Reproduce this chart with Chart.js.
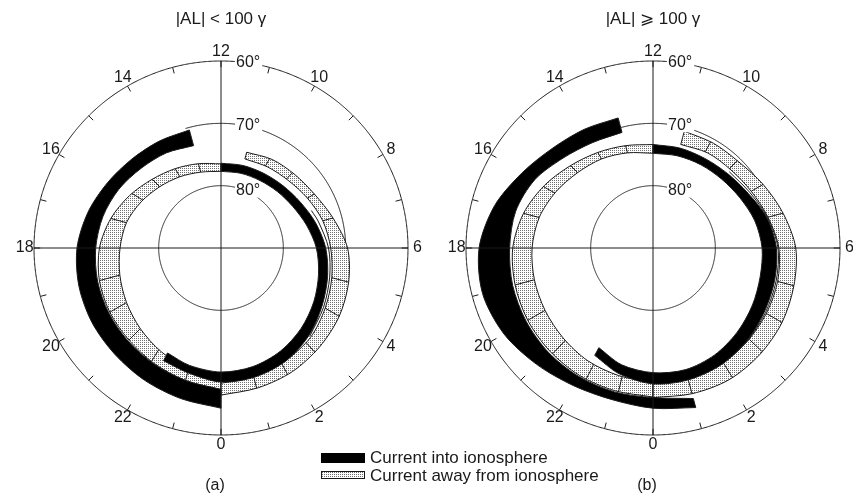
<!DOCTYPE html>
<html>
<head>
<meta charset="utf-8">
<script src="https://cdn.jsdelivr.net/npm/chart.js@4.4.0/dist/chart.umd.min.js"></script>
<style>
  html, body { margin: 0; padding: 0; background: #fff; }
  #currents { display: block; }
</style>
</head>
<body>
<canvas id="currents" width="853" height="497"></canvas>
<script>
// field-aligned current bands: magnetic local time (h) vs invariant latitude (deg)
// (a) |AL| < 100 gamma
var aIntoDuskMlt   = [13, 14, 15, 16, 17, 18, 19, 20, 21, 22, 23, 24];
var aIntoDuskOuter = [70.4, 70.2, 69.8, 69.0, 67.9, 66.9, 66.4, 66.1, 65.9, 65.5, 65.0, 64.3];
var aIntoDuskInner = [73.0, 72.4, 71.9, 71.1, 70.4, 69.9, 69.5, 69.2, 68.9, 68.5, 68.0, 67.3];

var aAwayDuskMlt   = [12, 13, 14, 15, 16, 17, 18, 19, 20, 21, 22, 23, 24];
var aAwayDuskOuter = [76.5, 76.0, 75.3, 74.4, 73.1, 71.7, 70.5, 69.8, 69.4, 69.1, 68.6, 68.0, 67.3];
var aAwayDuskInner = [77.7, 77.4, 76.8, 76.1, 75.2, 74.3, 73.8, 73.2, 72.5, 71.7, 70.8, 70.0, 69.5];
var aAwayDuskCuts  = [13, 14, 15, 15.9, 17, 19, 20, 21, 21.9, 23];

var aIntoDawnMlt   = [12, 11, 10, 9, 8, 7, 6, 5, 4, 3, 2, 1, 0, 23, 22.2];
var aIntoDawnOuter = [76.4, 76.3, 76.2, 75.9, 75.3, 74.3, 73.2, 72.3, 71.3, 70.1, 69.1, 68.6, 68.5, 69.3, 69.7];
var aIntoDawnInner = [77.7, 77.6, 77.5, 77.2, 76.7, 75.8, 74.7, 73.8, 72.8, 71.8, 70.9, 70.3, 70.1, 70.5, 71.1];

var aAwayDawnMlt   = [11, 10, 9, 8, 7, 6, 5, 4, 3, 2, 1, 0];
var aAwayDawnOuter = [74.1, 73.6, 73.3, 72.7, 71.4, 69.7, 68.8, 68.1, 67.6, 67.1, 66.8, 66.4];
var aAwayDawnInner = [75.2, 75.0, 74.7, 74.0, 73.1, 72.4, 71.6, 70.7, 69.7, 69.2, 68.7, 68.3];
var aAwayDawnCuts  = [10.1, 9.1, 8, 7, 5, 4, 2.8, 1.85, 0.95];

var aEdgeMlt = [7.5, 7, 6, 5, 4, 3];
var aEdgeLat = [74.3, 73.8, 72.75, 71.95, 71.0, 69.9];
var aArc70 = [13.1, 6.0];

// (b) |AL| >= 100 gamma
var bIntoDuskMlt   = [13, 14, 15, 16, 17, 18, 19, 20, 21, 22, 23, 24, 25];
var bIntoDuskOuter = [68.4, 68.0, 67.3, 65.8, 63.7, 62.1, 61.7, 62.4, 63.6, 64.5, 64.8, 64.3, 63.5];
var bIntoDuskInner = [70.8, 70.5, 69.6, 68.1, 67.2, 67.0, 66.7, 66.5, 66.3, 66.2, 66.1, 66.0, 65.0];

var bAwayDuskMlt   = [12, 13, 14, 15, 16, 17, 18, 19, 20, 21, 22, 23, 24];
var bAwayDuskOuter = [73.4, 73.0, 72.3, 71.3, 69.9, 68.5, 67.5, 67.1, 66.8, 66.6, 66.4, 66.3, 66.1];
var bAwayDuskInner = [74.8, 74.2, 73.5, 72.9, 72.0, 71.1, 70.6, 70.3, 70.0, 69.6, 69.1, 68.8, 68.4];
var bAwayDuskCuts  = [13, 14, 15, 16.05, 17, 19, 20, 21.1, 22.2, 23.1];

var bIntoDawnMlt   = [12, 11, 10, 9, 8, 7, 6, 5, 4, 3, 2, 1, 0, 23, 22.1];
var bIntoDawnOuter = [73.4, 73.4, 73.4, 73.1, 72.4, 71.1, 70.2, 69.8, 69.4, 68.8, 68.3, 68.1, 68.2, 69.1, 70.4];
var bIntoDawnInner = [74.8, 74.7, 74.6, 74.4, 73.9, 73.1, 72.5, 72.2, 71.6, 70.9, 70.2, 69.8, 70.0, 70.6, 71.8];

var bAwayDawnMlt   = [11, 10, 9, 8, 7, 6, 5, 4, 3, 2, 1, 0];
var bAwayDawnOuter = [70.6, 70.6, 70.5, 69.6, 68.4, 67.1, 66.6, 66.1, 65.8, 65.6, 65.8, 66.0];
var bAwayDawnInner = [72.8, 72.4, 72.3, 71.8, 70.9, 69.8, 69.3, 69.0, 68.7, 68.4, 68.2, 68.2];
var bAwayDawnCuts  = [10.1, 9.07, 8, 7, 5, 4, 3.1, 2.1, 1.0];

var bEdgeMlt = [9, 8, 7, 6, 5, 4, 3, 2.2];
var bEdgeLat = [72.7, 72.1, 71.0, 69.95, 69.55, 69.2, 68.75, 68.4];
var bArc70 = [13.0, 8.2];

var hourTicks = [0, 2, 4, 6, 8, 10, 12, 14, 16, 18, 20, 22];
var latCircles = [60, 70, 80];
var panelTitles = ['|AL| < 100 γ', '|AL| ⩾ 100 γ'];
var panelTags = ['(a)', '(b)'];
var legendLabels = ['Current into ionosphere', 'Current away from ionosphere'];

var W = 853, H = 497, CY = 248, CX_A = 221, CX_B = 653;
var ppd = 187 / 30;
var FONT = '"Liberation Sans", Arial, sans-serif';
var INK = '#1a1a1a';

function polar(mlt, lat) {
  var r = 90 - lat, a = (mlt - 12) * Math.PI / 12;
  return { x: -r * Math.sin(a), y: r * Math.cos(a) };
}

// closed outline: outer edge forward, inner edge back; corners doubled so the end cuts stay straight
function band(mlt, outer, inner) {
  var pts = [], n = mlt.length;
  for (var i = 0; i < n; i++) {
    var p = polar(mlt[i], outer[i]);
    pts.push(p);
    if (i === 0 || i === n - 1) pts.push(p);
  }
  for (var j = n - 1; j >= 0; j--) {
    var q = polar(mlt[j], inner[j]);
    pts.push(q);
    if (j === 0 || j === n - 1) pts.push(q);
  }
  pts.push(pts[0]);
  return pts;
}

function interp(h, mlt, vals) {
  for (var i = 0; i < mlt.length - 1; i++) {
    var lo = Math.min(mlt[i], mlt[i + 1]), hi = Math.max(mlt[i], mlt[i + 1]);
    if (h >= lo && h <= hi) {
      var t = (h - mlt[i]) / (mlt[i + 1] - mlt[i]);
      return vals[i] + t * (vals[i + 1] - vals[i]);
    }
  }
  return vals[vals.length - 1];
}

function cutLines(cuts, mlt, outer, inner) {
  var pts = [];
  cuts.forEach(function (h) {
    pts.push(polar(h, interp(h, mlt, outer)), polar(h, interp(h, mlt, inner)), { x: null, y: null });
  });
  return pts;
}

function curve(mlt, lat) {
  return mlt.map(function (h, i) { return polar(h, lat[i]); });
}

var canvas = document.getElementById('currents');
var ctx0 = canvas.getContext('2d');
var tile = document.createElement('canvas');
tile.width = 2; tile.height = 2;
var tctx = tile.getContext('2d');
tctx.fillStyle = '#fff'; tctx.fillRect(0, 0, 2, 2);
tctx.fillStyle = '#707070'; tctx.fillRect(0, 0, 1, 1);
var stipple = ctx0.createPattern(tile, 'repeat');

var datasets = [];
function addBand(axis, pts, fillColor, order) {
  datasets.push({ xAxisID: axis, data: pts, showLine: true, pointRadius: 0, tension: 0.3,
    borderColor: INK, borderWidth: 1, backgroundColor: fillColor, fill: 'shape', order: order });
}
function addLine(axis, pts, order, tension) {
  datasets.push({ xAxisID: axis, data: pts, showLine: true, pointRadius: 0, tension: tension,
    borderColor: INK, borderWidth: 1, fill: false, spanGaps: false, order: order });
}

addBand('x', band(aAwayDuskMlt, aAwayDuskOuter, aAwayDuskInner), stipple, 6);
addBand('x', band(aAwayDawnMlt, aAwayDawnOuter, aAwayDawnInner), stipple, 5);
addLine('x', cutLines(aAwayDuskCuts, aAwayDuskMlt, aAwayDuskOuter, aAwayDuskInner), 4, 0);
addLine('x', cutLines(aAwayDawnCuts, aAwayDawnMlt, aAwayDawnOuter, aAwayDawnInner), 4, 0);
addBand('x', band(aIntoDuskMlt, aIntoDuskOuter, aIntoDuskInner), '#000', 3);
addBand('x', band(aIntoDawnMlt, aIntoDawnOuter, aIntoDawnInner), '#000', 2);
addLine('x', curve(aEdgeMlt, aEdgeLat), 1, 0.3);

addBand('x2', band(bAwayDuskMlt, bAwayDuskOuter, bAwayDuskInner), stipple, 6);
addBand('x2', band(bAwayDawnMlt, bAwayDawnOuter, bAwayDawnInner), stipple, 5);
addLine('x2', cutLines(bAwayDuskCuts, bAwayDuskMlt, bAwayDuskOuter, bAwayDuskInner), 4, 0);
addLine('x2', cutLines(bAwayDawnCuts, bAwayDawnMlt, bAwayDawnOuter, bAwayDawnInner), 4, 0);
addBand('x2', band(bIntoDuskMlt, bIntoDuskOuter, bIntoDuskInner), '#000', 3);
addBand('x2', band(bIntoDawnMlt, bIntoDawnOuter, bIntoDawnInner), '#000', 2);
addLine('x2', curve(bEdgeMlt, bEdgeLat), 1, 0.3);

function px(chart, axis, p) {
  return [chart.scales[axis].getPixelForValue(p.x), chart.scales.y.getPixelForValue(p.y)];
}

function strokeArc(ctx, chart, axis, lat, h1, h2) {
  ctx.beginPath();
  var n = Math.max(2, Math.round(Math.abs(h2 - h1) * 40));
  for (var i = 0; i <= n; i++) {
    var q = px(chart, axis, polar(h1 + (h2 - h1) * i / n, lat));
    if (i === 0) ctx.moveTo(q[0], q[1]); else ctx.lineTo(q[0], q[1]);
  }
  ctx.stroke();
}

function labelBox(ctx, text, x, y) {
  var w = ctx.measureText(text).width;
  ctx.fillStyle = '#fff';
  ctx.fillRect(x - 1, y - 7, w + 3, 14);
  ctx.fillStyle = INK;
  ctx.fillText(text, x, y);
}

var panels = [{ axis: 'x', arc: aArc70 }, { axis: 'x2', arc: bArc70 }];

var polarGrid = {
  id: 'polarGrid',
  beforeDatasetsDraw: function (chart) {
    var ctx = chart.ctx;
    ctx.save();
    ctx.strokeStyle = INK;
    ctx.lineWidth = 1;
    panels.forEach(function (p) {
      strokeArc(ctx, chart, p.axis, latCircles[0], 0, 24);
      strokeArc(ctx, chart, p.axis, latCircles[2], 0, 24);
      strokeArc(ctx, chart, p.axis, latCircles[1], p.arc[0], p.arc[1]);
      for (var h = 0; h < 24; h++) {
        var a = px(chart, p.axis, polar(h, 60)), b = px(chart, p.axis, polar(h, 61));
        ctx.beginPath(); ctx.moveTo(a[0], a[1]); ctx.lineTo(b[0], b[1]); ctx.stroke();
      }
    });
    ctx.restore();
  },
  afterDatasetsDraw: function (chart) {
    var ctx = chart.ctx;
    ctx.save();
    ctx.strokeStyle = INK;
    ctx.lineWidth = 1;
    panels.forEach(function (p, k) {
      var l = px(chart, p.axis, polar(18, 60)), r = px(chart, p.axis, polar(6, 60));
      var t = px(chart, p.axis, polar(12, 60)), b = px(chart, p.axis, polar(0, 60));
      ctx.beginPath();
      ctx.moveTo(l[0], l[1]); ctx.lineTo(r[0], r[1]);
      ctx.moveTo(t[0], t[1]); ctx.lineTo(b[0], b[1]);
      ctx.stroke();

      ctx.font = '16px ' + FONT;
      ctx.fillStyle = INK;
      ctx.textAlign = 'center';
      ctx.textBaseline = 'middle';
      hourTicks.forEach(function (h) {
        var q = px(chart, p.axis, polar(h, 58.5));
        ctx.fillText(String(h), q[0], q[1]);
      });

      ctx.textAlign = 'left';
      latCircles.forEach(function (lat) {
        var q = px(chart, p.axis, polar(12, lat));
        labelBox(ctx, lat + '°', q[0] + 15, q[1] + (lat === 80 ? 5 : 2));
      });

      var c = px(chart, p.axis, { x: 0, y: 0 });
      ctx.textAlign = 'center';
      ctx.font = '17px ' + FONT;
      ctx.fillText(panelTitles[k], c[0], 19);
      ctx.font = '16px ' + FONT;
      ctx.fillText(panelTags[k], c[0] - 6, 486);
    });

    // legend
    ctx.fillStyle = '#000';
    ctx.fillRect(321, 453, 44, 10);
    ctx.fillStyle = stipple;
    ctx.fillRect(321, 471, 44, 8);
    ctx.strokeRect(321.5, 471.5, 43, 7);
    ctx.fillStyle = INK;
    ctx.textAlign = 'left';
    ctx.font = '17px ' + FONT;
    ctx.fillText(legendLabels[0], 370, 458);
    ctx.fillText(legendLabels[1], 370, 476);
    ctx.restore();
  }
};

new Chart(canvas, {
  type: 'scatter',
  data: { datasets: datasets },
  options: {
    responsive: false,
    animation: false,
    events: [],
    layout: { padding: 0 },
    plugins: { legend: { display: false }, tooltip: { enabled: false }, title: { display: false } },
    scales: {
      x: { type: 'linear', axis: 'x', display: false, bounds: 'data', min: -CX_A / ppd, max: (W - CX_A) / ppd },
      x2: { type: 'linear', axis: 'x', display: false, bounds: 'data', min: -CX_B / ppd, max: (W - CX_B) / ppd },
      y: { type: 'linear', display: false, bounds: 'data', min: -(H - CY) / ppd, max: CY / ppd }
    }
  },
  plugins: [polarGrid]
});
</script>
</body>
</html>
